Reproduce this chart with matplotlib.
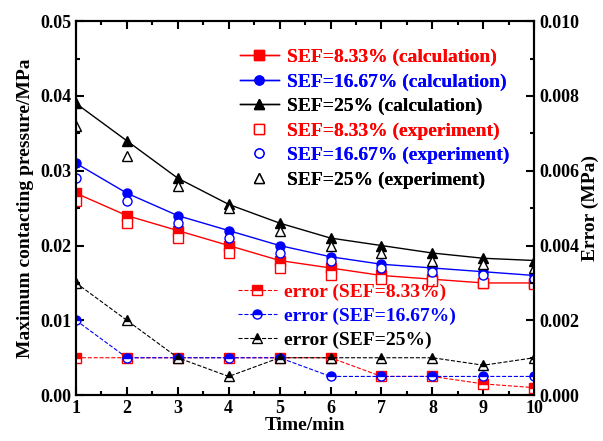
import numpy as np
import matplotlib.pyplot as plt
from matplotlib.ticker import MultipleLocator

plt.rcParams['font.family'] = ['Liberation Serif', 'DejaVu Serif']
plt.rcParams['font.weight'] = 'bold'
plt.rcParams['axes.labelweight'] = 'bold'

t = np.arange(1, 11)

calc_833 = [0.027, 0.024, 0.022, 0.020, 0.018, 0.017, 0.016, 0.0155, 0.015, 0.015]
calc_1667 = [0.031, 0.027, 0.024, 0.022, 0.020, 0.0185, 0.0175, 0.017, 0.0165, 0.016]
calc_25 = [0.039, 0.034, 0.029, 0.0255, 0.023, 0.021, 0.020, 0.019, 0.0183, 0.018]

exp_833 = [0.026, 0.023, 0.021, 0.019, 0.017, 0.016, 0.0155, 0.0152, 0.015, 0.0148]
exp_1667 = [0.029, 0.026, 0.023, 0.021, 0.019, 0.018, 0.017, 0.0165, 0.016, 0.0155]
exp_25 = [0.036, 0.032, 0.028, 0.025, 0.022, 0.020, 0.019, 0.018, 0.0175, 0.017]

err_833 = [0.001, 0.001, 0.001, 0.001, 0.001, 0.001, 0.0005, 0.0005, 0.0003, 0.0002]
err_1667 = [0.002, 0.001, 0.001, 0.001, 0.001, 0.0005, 0.0005, 0.0005, 0.0005, 0.0005]
err_25 = [0.003, 0.002, 0.001, 0.0005, 0.001, 0.001, 0.001, 0.001, 0.0008, 0.001]

fig = plt.figure(figsize=(6.03, 4.41), dpi=100)
ax = fig.add_axes([0.126, 0.104, 0.760, 0.848])
ax2 = ax.twinx()

ms = 6.5
h1 = []
h1 += ax.plot(t, calc_833, '-s', color='red', lw=1, ms=ms, label='SEF=8.33% (calculation)')
h1 += ax.plot(t, calc_1667, '-o', color='blue', lw=1, ms=ms, label='SEF=16.67% (calculation)')
h1 += ax.plot(t, calc_25, '-^', color='black', lw=1, ms=ms + 1, label='SEF=25% (calculation)')
h1 += ax.plot(t, exp_833, 's', color='red', mfc='white', ms=ms, mew=1, label='SEF=8.33% (experiment)')
h1 += ax.plot(t, exp_1667, 'o', color='blue', mfc='white', ms=ms, mew=1, label='SEF=16.67% (experiment)')
h1 += ax.plot(t, exp_25, '^', color='black', mfc='white', ms=ms + 1, mew=1, label='SEF=25% (experiment)')

h2 = []
h2 += ax2.plot(t, err_833, '--s', color='red', lw=0.8, ms=ms, fillstyle='top', mfc='red', mfcalt='white', mew=1, label='error (SEF=8.33%)')
h2 += ax2.plot(t, err_1667, '--o', color='blue', lw=0.8, ms=ms, fillstyle='top', mfc='blue', mfcalt='white', mew=1, label='error (SEF=16.67%)')
h2 += ax2.plot(t, err_25, '--^', color='black', lw=0.8, ms=ms + 1, fillstyle='top', mfc='black', mfcalt='white', mew=1, label='error (SEF=25%)')

ax.set_xlim(1, 10)
ax.set_ylim(0, 0.05)
ax2.set_ylim(0, 0.010)
ax.xaxis.set_major_locator(MultipleLocator(1))
ax.xaxis.set_minor_locator(MultipleLocator(0.5))
ax.yaxis.set_major_locator(MultipleLocator(0.01))
ax.yaxis.set_minor_locator(MultipleLocator(0.005))
ax2.yaxis.set_major_locator(MultipleLocator(0.002))
ax2.yaxis.set_minor_locator(MultipleLocator(0.001))
ax.yaxis.set_major_formatter(plt.FormatStrFormatter('%.2f'))
ax2.yaxis.set_major_formatter(plt.FormatStrFormatter('%.3f'))

ax.tick_params(which='both', direction='in', top=True, width=1.5, labelsize=13)
ax.tick_params(which='major', length=6)
ax.tick_params(which='minor', length=3)
ax2.tick_params(which='both', direction='in', width=1.5, labelsize=13)
ax2.tick_params(which='major', length=6)
ax2.tick_params(which='minor', length=3)
for a in (ax, ax2):
    for s in a.spines.values():
        s.set_linewidth(1.5)

ax.set_xlabel('Time/min', fontsize=14, labelpad=0)
ax.set_ylabel('Maximum contacting pressure/MPa', fontsize=14, labelpad=4)
ax2.set_ylabel('Error (MPa)', fontsize=14, labelpad=2)

colors = ['red', 'blue', 'black']
leg1 = ax.legend(handles=h1, loc='upper left', bbox_to_anchor=(0.358, 0.927), frameon=False,
                 fontsize=14, handlelength=2.0, handletextpad=0.4, labelspacing=0.35,
                 borderpad=0, borderaxespad=0)
for txt, c in zip(leg1.get_texts(), colors * 2):
    txt.set_color(c)
ax.add_artist(leg1)
leg2 = ax2.legend(handles=h2, loc='lower left', bbox_to_anchor=(0.353, 0.123), frameon=False,
                  fontsize=14, handlelength=2.0, handletextpad=0.4, labelspacing=0.32,
                  borderpad=0, borderaxespad=0)
for txt, c in zip(leg2.get_texts(), colors):
    txt.set_color(c)

fig.savefig('out.png', dpi=100)
